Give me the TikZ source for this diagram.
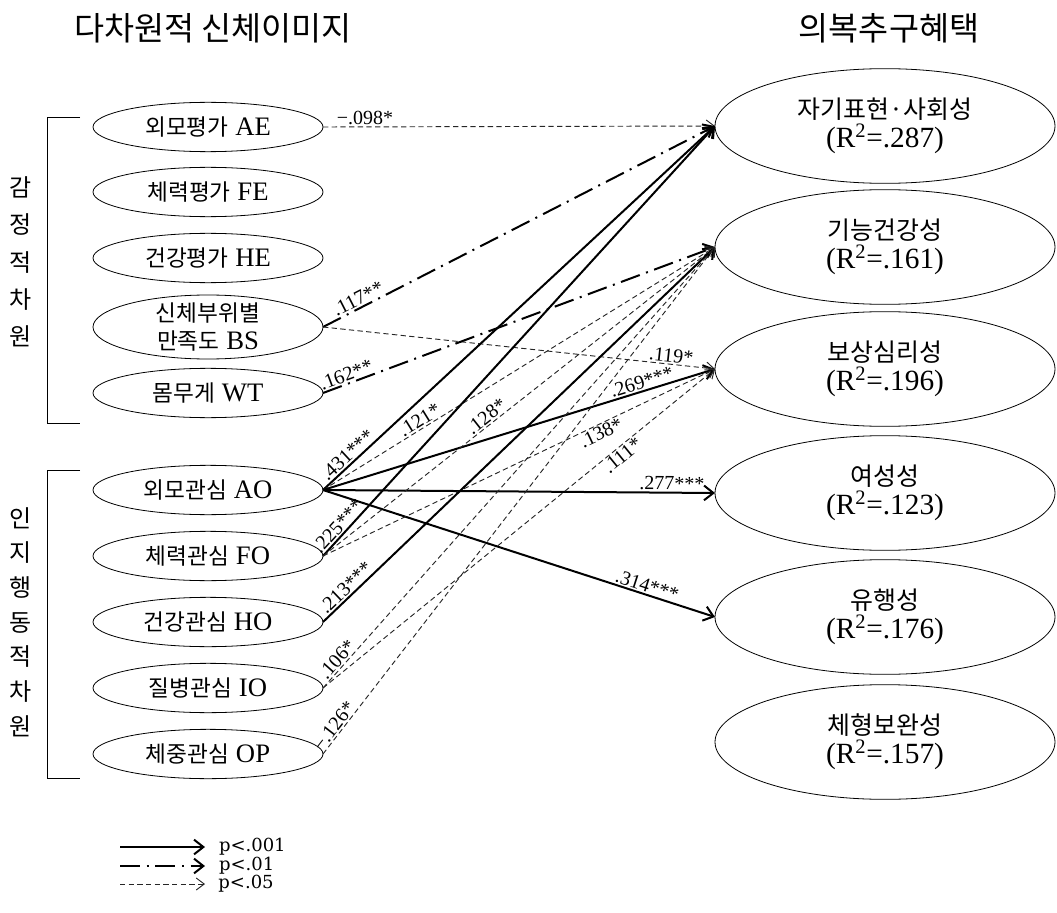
\documentclass[tikz,border=0pt]{standalone}
\usepackage{fontspec}
\setmainfont{Liberation Serif}
\newfontfamily\krfont[Scale=0.85]{Noto Sans CJK KR}
\newfontfamily\krtitle{Noto Sans CJK KR}
\newfontfamily\legfont{DejaVu Serif}
\newcommand{\K}[1]{{\krfont #1}}
\usetikzlibrary{arrows.meta,shapes.geometric}
\begin{document}
\begin{tikzpicture}[x=0.75pt,y=-0.75pt,
  lnode/.style={ellipse,draw,line width=0.6pt,minimum width=172.5pt,minimum height=37pt,inner sep=0pt,outer sep=0pt,font=\fontsize{20}{21}\selectfont,align=center},
  rnode/.style={ellipse,draw,line width=0.6pt,minimum width=255pt,minimum height=86pt,inner sep=0pt,outer sep=0pt,font=\fontsize{22}{22}\selectfont,align=center},
  ltext/.style={font=\fontsize{20}{21}\selectfont,align=center,inner sep=0pt},
  psolid/.style={line width=1.5pt,-{Straight Barb[length=7pt,width=11pt]}},
  pdashdot/.style={line width=1.5pt,dash pattern=on 15pt off 5pt on 1.5pt off 5pt,-{Straight Barb[length=7pt,width=11pt]}},
  pdash/.style={line width=0.7pt,black!85,dash pattern=on 4pt off 2.5pt,-{Straight Barb[length=6pt,width=9pt]}},
  coef/.style={font=\fontsize{15}{15}\selectfont,sloped,above,inner sep=1pt,text=black},
  vtext/.style={font=\krtitle\fontsize{18}{28}\selectfont,align=center,inner sep=0pt},
  legtext/.style={font=\legfont\fontsize{13.5}{14}\selectfont,anchor=west,inner sep=0pt,xshift=9.75pt,text=black},
  brk/.style={line width=0.7pt}
]
\useasboundingbox (0,0) rectangle (1057,913);

% titles
\node[font=\krtitle\fontsize{24.5}{26}\selectfont] (t1) at (213,28) {다차원적 신체이미지};
\node[font=\krtitle\fontsize{24.5}{26}\selectfont] (t2) at (889,28) {의복추구혜택};

% left nodes
\node[lnode] (AE) at (208,127) {\K{외모평가} AE};
\node[lnode] (FE) at (208,192) {\K{체력평가} FE};
\node[lnode] (HE) at (208,258) {\K{건강평가} HE};
\node[lnode,minimum height=48pt,label={[ltext]center:{\K{신체부위별}\\\K{만족도} BS}}] (BS) at (208,327) {};
\node[lnode] (WT) at (208,393) {\K{몸무게} WT};
\node[lnode] (AO) at (208,490) {\K{외모관심} AO};
\node[lnode] (FO) at (208,556) {\K{체력관심} FO};
\node[lnode] (HO) at (208,622) {\K{건강관심} HO};
\node[lnode] (IO) at (208,688) {\K{질병관심} IO};
\node[lnode] (OP) at (208,754) {\K{체중관심} OP};

% right nodes
\node[rnode] (SE) at (885,126) {\K{자기표현·사회성}\\(R\textsuperscript{2}=.287)};
\node[rnode] (FH) at (885,247) {\K{기능건강성}\\(R\textsuperscript{2}=.161)};
\node[rnode] (CP) at (885,369) {\K{보상심리성}\\(R\textsuperscript{2}=.196)};
\node[rnode] (FM) at (885,493) {\K{여성성}\\(R\textsuperscript{2}=.123)};
\node[rnode] (FA) at (885,617) {\K{유행성}\\(R\textsuperscript{2}=.176)};
\node[rnode] (BC) at (885,742) {\K{체형보완성}\\(R\textsuperscript{2}=.157)};

% group brackets and labels
\draw[brk] (80,117) -- (47,117) -- (47,423) -- (80,423);
\draw[brk] (80,470) -- (47,470) -- (47,778) -- (80,778);
\node[vtext] (g1) at (21,262) {감\\정\\적\\차\\원};
\node[vtext,font=\krtitle\fontsize{18}{26}\selectfont] (g2) at (21,622) {인\\지\\행\\동\\적\\차\\원};

% paths
\draw[pdash] (AE.east) -- node[coef,pos=0.107]{−.098*} (SE.west);
\draw[pdashdot] (BS.east) -- node[coef,pos=0.10]{.117**} (SE.west);
\draw[pdash] (BS.east) -- node[coef,pos=0.886]{.119*} (CP.west);
\draw[pdashdot] (WT.east) -- node[coef,pos=0.067]{.162**} (FH.west);
\draw[psolid] (AO.east) -- node[coef,pos=0.078]{.431***} (SE.west);
\draw[pdash] (AO.east) -- node[coef,pos=0.258]{.121*} (FH.west);
\draw[psolid] (AO.east) -- node[coef,pos=0.82]{.269***} (CP.west);
\draw[psolid] (AO.east) -- node[coef,pos=0.89]{.277***} (FM.west);
\draw[psolid] (AO.east) -- node[coef,pos=0.82]{.314***} (FA.west);
\draw[psolid] (FO.east) -- node[coef,pos=0.055]{.225***} (SE.west);
\draw[pdash] (FO.east) -- node[coef,pos=0.43]{.128*} (FH.west);
\draw[pdash] (FO.east) -- node[coef,below,pos=0.70]{.138*} (CP.west);
\draw[psolid] (HO.east) -- node[coef,pos=0.074]{.213***} (FH.west);
\draw[pdash] (IO.east) -- node[coef,pos=0.052]{.106*} (FH.west);
\draw[pdash] (IO.east) -- node[coef,below,pos=0.75]{.111*} (CP.west);
\draw[pdash] (OP.east) -- node[coef,pos=0.045]{−.126*} (FH.west);

% legend
\coordinate (L1a) at (120,847); \coordinate (L1b) at (205,847);
\coordinate (L2a) at (120,866); \coordinate (L2b) at (205,866);
\coordinate (L3a) at (120,884); \coordinate (L3b) at (205,884);
\draw[psolid] (L1a) -- (L1b) node[legtext] (lt1) {p<.001};
\draw[pdashdot] (L2a) -- (L2b) node[legtext] (lt2) {p<.01};
\draw[pdash] (L3a) -- (L3b) node[legtext] (lt3) {p<.05};
\end{tikzpicture}
\end{document}
